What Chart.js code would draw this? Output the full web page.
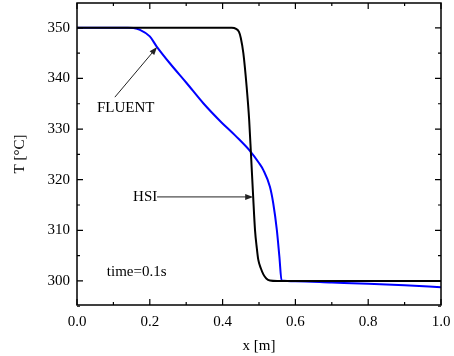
<!DOCTYPE html>
<html>
<head>
<meta charset="utf-8">
<script src="https://cdn.jsdelivr.net/npm/chart.js@4.4.0/dist/chart.umd.min.js"></script>
<style>
  html, body { margin: 0; padding: 0; background: #fff; }
</style>
</head>
<body>
<canvas id="myChart" width="454" height="356"></canvas>
<script>
// HSI curve (black)
const hsiX = [0, 0.425, 0.437, 0.445, 0.45, 0.457, 0.466, 0.473, 0.478, 0.484, 0.489, 0.494, 0.498, 0.505, 0.512, 0.52, 0.53, 0.55, 1.0];
const hsiT = [350, 350, 349.8, 349.2, 348, 345, 338.4, 331.8, 325, 316.6, 310.1, 306.5, 304.2, 302.5, 301.3, 300.5, 300.1, 300, 300];

// FLUENT curve (blue)
const fluentX = [0, 0.14, 0.155, 0.173, 0.2, 0.219, 0.255, 0.301, 0.347, 0.393, 0.435, 0.475, 0.5, 0.512, 0.53, 0.539, 0.549, 0.556, 0.562, 0.6, 0.7, 0.8, 0.9, 1.0];
const fluentT = [350, 350, 349.95, 349.6, 348.3, 346.3, 343, 339.1, 335.1, 331.6, 328.7, 325.7, 323.3, 321.9, 318.6, 315.4, 310.1, 304.8, 300.1, 299.95, 299.7, 299.45, 299.15, 298.75];

// axis ticks
const xTicks = [0, 0.2, 0.4, 0.6, 0.8, 1.0];
const xMinor = [0.1, 0.3, 0.5, 0.7, 0.9];
const yTicks = [300, 310, 320, 330, 340, 350];
const yMinor = [295, 305, 315, 325, 335, 345];

// labels and arrows, in data units
const notes = [
  { text: 'FLUENT', x: 0.055, y: 334.2 },
  { text: 'HSI', x: 0.154, y: 316.6 },
  { text: 'time=0.1s', x: 0.082, y: 301.8 }
];
const arrows = [
  { from: [0.104, 336.3], to: [0.22, 346.2] },
  { from: [0.22, 316.6], to: [0.484, 316.6] }
];

const serif = 'Liberation Serif';

function pts(xs, ys) {
  return xs.map((x, i) => ({ x: x, y: ys[i] }));
}

// frame, inward ticks, labels and arrows
const decor = {
  id: 'decor',
  afterDatasetsDraw(chart) {
    const ctx = chart.ctx;
    const a = chart.chartArea;
    const sx = chart.scales.x, sy = chart.scales.y;
    ctx.save();
    ctx.strokeStyle = '#000';
    ctx.lineWidth = 1.5;
    ctx.strokeRect(a.left, a.top, a.right - a.left, a.bottom - a.top);

    ctx.lineWidth = 1.2;
    ctx.beginPath();
    function xt(v, len) {
      const p = sx.getPixelForValue(v);
      ctx.moveTo(p, a.bottom); ctx.lineTo(p, a.bottom - len);
      ctx.moveTo(p, a.top); ctx.lineTo(p, a.top + len);
    }
    function yt(v, len) {
      const p = sy.getPixelForValue(v);
      ctx.moveTo(a.left, p); ctx.lineTo(a.left + len, p);
      ctx.moveTo(a.right, p); ctx.lineTo(a.right - len, p);
    }
    xTicks.forEach(v => xt(v, 6));
    xMinor.forEach(v => xt(v, 3));
    yTicks.forEach(v => yt(v, 6));
    yMinor.forEach(v => yt(v, 3));
    ctx.stroke();

    ctx.fillStyle = '#000';
    ctx.font = '15px "' + serif + '"';
    ctx.textBaseline = 'middle';
    ctx.textAlign = 'left';
    notes.forEach(n => {
      ctx.fillText(n.text, sx.getPixelForValue(n.x), sy.getPixelForValue(n.y));
    });

    ctx.strokeStyle = '#222';
    ctx.fillStyle = '#222';
    ctx.lineWidth = 1;
    arrows.forEach(ar => {
      const x1 = sx.getPixelForValue(ar.from[0]), y1 = sy.getPixelForValue(ar.from[1]);
      const x2 = sx.getPixelForValue(ar.to[0]), y2 = sy.getPixelForValue(ar.to[1]);
      const ang = Math.atan2(y2 - y1, x2 - x1);
      ctx.beginPath();
      ctx.moveTo(x1, y1);
      ctx.lineTo(x2 - 6 * Math.cos(ang), y2 - 6 * Math.sin(ang));
      ctx.stroke();
      ctx.beginPath();
      ctx.moveTo(x2, y2);
      ctx.lineTo(x2 - 8 * Math.cos(ang) + 3 * Math.sin(ang), y2 - 8 * Math.sin(ang) - 3 * Math.cos(ang));
      ctx.lineTo(x2 - 8 * Math.cos(ang) - 3 * Math.sin(ang), y2 - 8 * Math.sin(ang) + 3 * Math.cos(ang));
      ctx.closePath();
      ctx.fill();
    });
    ctx.restore();
  }
};

new Chart('myChart', {
  type: 'line',
  data: {
    datasets: [{
      label: 'HSI',
      data: pts(hsiX, hsiT),
      borderColor: '#000',
      borderWidth: 2,
      pointRadius: 0,
      fill: false,
      cubicInterpolationMode: 'monotone'
    }, {
      label: 'FLUENT',
      data: pts(fluentX, fluentT),
      borderColor: '#0000ff',
      borderWidth: 2,
      pointRadius: 0,
      fill: false,
      cubicInterpolationMode: 'monotone'
    }]
  },
  options: {
    responsive: false,
    animation: false,
    layout: { padding: { left: 0, right: 13, top: 3, bottom: 0 } },
    plugins: { legend: { display: false }, tooltip: { enabled: false } },
    scales: {
      x: {
        type: 'linear', min: 0, max: 1,
        afterBuildTicks(s) { s.ticks = xTicks.map(v => ({ value: v })); },
        afterFit(s) { s.height = 51; s.paddingLeft = 0; s.paddingRight = 0; },
        ticks: { color: '#000', padding: 8, font: { family: serif, size: 15 }, callback: v => v.toFixed(1) },
        grid: { display: false, drawTicks: false },
        border: { display: false },
        title: { display: true, text: 'x [m]', color: '#000', font: { family: serif, size: 15 }, padding: { top: 0, bottom: 1 } }
      },
      y: {
        type: 'linear', min: 295.25, max: 354.9,
        afterBuildTicks(s) { s.ticks = yTicks.map(v => ({ value: v })); },
        afterFit(s) { s.width = 77; s.paddingTop = 0; s.paddingBottom = 0; },
        ticks: { color: '#000', padding: 7, font: { family: serif, size: 15 } },
        grid: { display: false, drawTicks: false },
        border: { display: false },
        title: { display: true, text: 'T [°C]', color: '#000', font: { family: serif, size: 15 }, padding: { top: 11, bottom: 0 } }
      }
    }
  },
  plugins: [decor]
});
</script>
</body>
</html>
